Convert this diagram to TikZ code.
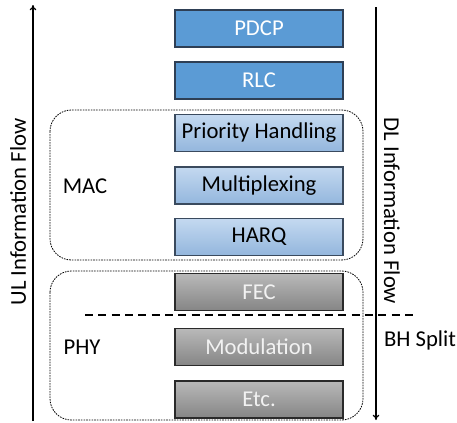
\documentclass[tikz,border=0pt]{standalone}
\usepackage{fontspec}
\setmainfont{Carlito}
\usepackage{tikz}
\usetikzlibrary{positioning,arrows.meta}

\definecolor{topblue}{HTML}{5B9BD5}
\definecolor{topedge}{HTML}{2E3F55}
\definecolor{macup}{HTML}{C4D9F0}
\definecolor{macdown}{HTML}{93B6DD}
\definecolor{macedge}{HTML}{3A4A5E}
\definecolor{phyup}{HTML}{B9B9B9}
\definecolor{phydown}{HTML}{858585}
\definecolor{phyedge}{HTML}{2A2A2A}
\definecolor{phytext}{HTML}{F2F2F2}

\tikzset{
    layer/.style={draw, line width=1.1pt, minimum width=126pt, minimum height=28pt,
        inner sep=0pt, font=\fontsize{17}{20}\selectfont},
    toplayer/.style={layer, fill=topblue, draw=topedge, text=white},
    maclayer/.style={layer, top color=macup, bottom color=macdown, draw=macedge},
    phylayer/.style={layer, top color=phyup, bottom color=phydown, draw=phyedge, text=phytext},
    group/.style={dash pattern=on 1.2pt off 0.8pt, line width=0.6pt, rounded corners=16pt},
    flow/.style={line width=0.9pt, -{To[length=4pt,width=5pt]}},
    tag/.style={font=\fontsize{17}{20}\selectfont}
}

\begin{document}
\begin{tikzpicture}[x=0.75pt, y=-0.75pt]
    \useasboundingbox (0,0) rectangle (457,422);

    % Pila de capas
    \node[toplayer] (pdcp) at (259, 28.5) {PDCP};
    \node[toplayer] (rlc) at (259, 80.5) {RLC};
    \node[maclayer] (prio) at (259, 133) {Priority Handling};
    \node[maclayer] (mux) at (259, 185.5) {Multiplexing};
    \node[maclayer] (harq) at (259, 237) {HARQ};
    \node[phylayer] (fec) at (259, 292) {FEC};
    \node[phylayer] (modu) at (259, 347) {Modulation};
    \node[phylayer] (etc) at (259, 399.5) {Etc.};

    % Grupos MAC y PHY
    \draw[group] (50, 110) rectangle (363, 260);
    \draw[group] (50, 271) rectangle (363, 420);
    \node[tag] (mac) at (85, 186) {MAC};
    \node[tag] (phy) at (82, 347) {PHY};

    % Flujos UL y DL
    \coordinate (ulbot) at (33, 421);
    \coordinate (ultop) at (33, 5);
    \coordinate (dltop) at (376, 7);
    \coordinate (dlbot) at (376, 420);
    \draw[flow] (ulbot) -- (ultop);
    \draw[flow] (dltop) -- (dlbot);
    \node[tag, rotate=90] (ul) at (18, 212) {UL Information Flow};
    \node[tag, rotate=-90] (dl) at (392, 211) {DL Information Flow};

    % Punto de corte BH
    \coordinate (cutl) at (85, 315);
    \coordinate (cutr) at (413, 315);
    \draw[line width=0.9pt, dash pattern=on 6pt off 4pt] (cutl) -- (cutr);
    \node[tag] (bh) at (420, 340) {BH Split};
\end{tikzpicture}
\end{document}
